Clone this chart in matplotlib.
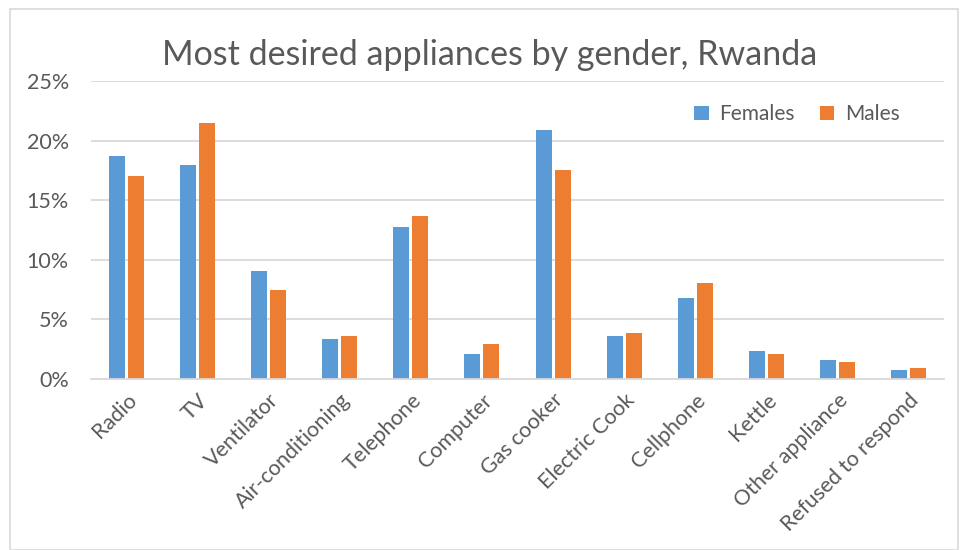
import numpy as np
import matplotlib.pyplot as plt
from matplotlib.patches import Rectangle

plt.rcParams['font.family'] = ['Lato', 'DejaVu Sans']

# data (share of respondents, %)
categories = ["Radio", "TV", "Ventilator", "Air-conditioning", "Telephone", "Computer",
              "Gas cooker", "Electric Cook", "Cellphone", "Kettle", "Other appliance",
              "Refused to respond"]
females = [18.75, 17.93, 9.09, 3.33, 12.73, 2.1, 20.89, 3.58, 6.8, 2.38, 1.57, 0.76]
males = [17.0, 21.45, 7.47, 3.58, 13.67, 2.91, 17.53, 3.86, 8.03, 2.1, 1.43, 0.9]
yticks = [0, 5, 10, 15, 20, 25]

grey = '#595959'
fig = plt.figure(figsize=(9.6, 5.5), dpi=100)
ax = fig.add_axes([91/960, 1 - 379/550, (944 - 91)/960, (379 - 81)/550])

x = np.arange(len(categories))
w = 0.225
ax.bar(x - w/2 - 0.021, females, width=w, color='#5B9BD5', label='Females', zorder=2)
ax.bar(x + w/2 + 0.021, males, width=w, color='#ED7D31', label='Males', zorder=2)

ax.set_xlim(-0.5, len(categories) - 0.5)
ax.set_ylim(0, 25)
ax.set_yticks(yticks)
ax.set_yticklabels([f"{t}%" for t in yticks], fontsize=15.5, color=grey)
ax.yaxis.grid(True, color='#D9D9D9', linewidth=1.3, zorder=0)
ax.set_xticks(x)
ax.set_xticklabels(categories, rotation=45, ha='right', rotation_mode='anchor',
                   fontsize=15.5, color=grey)
ax.tick_params(axis='y', length=0, pad=16)
ax.tick_params(axis='x', length=0, pad=8)
for s in ['top', 'right', 'left']:
    ax.spines[s].set_visible(False)
ax.spines['bottom'].set_color('#D9D9D9')
ax.spines['bottom'].set_linewidth(1.3)

fig.text(0.51, 1 - 55/550, "Most desired appliances by gender, Rwanda",
         ha='center', va='center', fontsize=24.5, color=grey)

ax.legend(loc='upper right', bbox_to_anchor=(0.97, 0.985), ncol=2, frameon=False,
          fontsize=15, labelcolor=grey, handlelength=0.7, handleheight=0.7,
          columnspacing=1.2, handletextpad=0.5)

# light frame around the chart area
fig.patches.append(Rectangle((10/960, 0), 948/960, 1 - 9/550, transform=fig.transFigure,
                             fill=False, edgecolor='#D9D9D9', linewidth=1.2))

fig.savefig('out.png', dpi=100)
